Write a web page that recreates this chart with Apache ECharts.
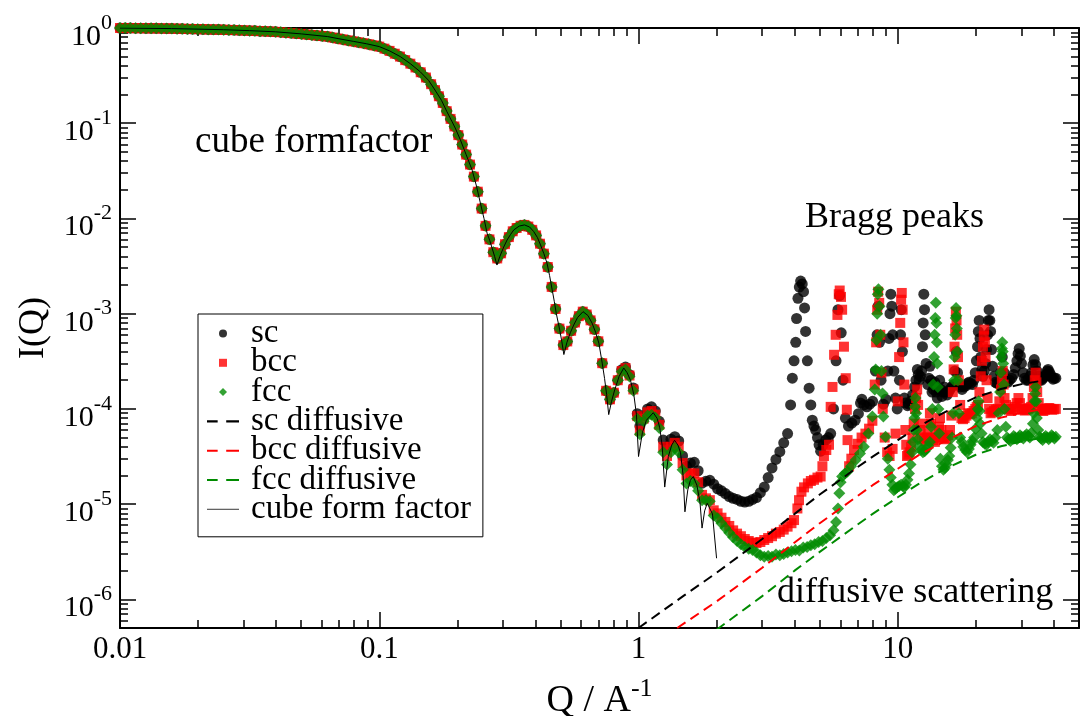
<!DOCTYPE html>
<html>
<head>
<meta charset="utf-8">
<script src="https://cdn.jsdelivr.net/npm/echarts@6.0.0/dist/echarts.min.js"></script>
<style>
  html, body {margin: 0; padding: 0; background: #fff;}
  #chart {width: 1089px; height: 716px;}
</style>
</head>
<body>
<div id="chart"></div>
<script>
// low Q: the three lattices sit on the cube form factor
const sharedLow = [
  [0.0100, 1.000], [0.01047, 0.998], [0.01096, 0.997], [0.01148, 0.996], [0.01202, 0.995], [0.01259, 0.993],
  [0.01318, 0.992], [0.0138, 0.991], [0.01445, 0.989], [0.01514, 0.988], [0.01585, 0.986], [0.0166, 0.984],
  [0.01738, 0.981], [0.0182, 0.978], [0.01905, 0.975], [0.01995, 0.973], [0.02089, 0.970], [0.02188, 0.967],
  [0.02291, 0.964], [0.02399, 0.962], [0.02512, 0.959], [0.0263, 0.955], [0.02754, 0.951], [0.02884, 0.946],
  [0.0302, 0.942], [0.03162, 0.938], [0.03311, 0.933], [0.03467, 0.927], [0.03631, 0.922], [0.03802, 0.917],
  [0.03981, 0.912], [0.04169, 0.904], [0.04365, 0.894], [0.04571, 0.885], [0.04786, 0.875], [0.05012, 0.867],
  [0.05248, 0.855], [0.05495, 0.845], [0.05754, 0.834], [0.06026, 0.824], [0.0631, 0.813], [0.06607, 0.794],
  [0.06918, 0.776], [0.07244, 0.759], [0.07586, 0.741], [0.07943, 0.724], [0.08318, 0.708], [0.0871, 0.692],
  [0.0912, 0.675], [0.0955, 0.656], [0.1, 0.638], [0.1047, 0.607], [0.1096, 0.575], [0.1148, 0.537],
  [0.1202, 0.501], [0.1259, 0.460], [0.1318, 0.422], [0.138, 0.385], [0.1445, 0.343], [0.1514, 0.302],
  [0.1585, 0.257], [0.1641, 0.223], [0.1698, 0.192], [0.1758, 0.163], [0.182, 0.134], [0.1884, 0.111],
  [0.195, 0.0925], [0.2018, 0.075], [0.2089, 0.0597], [0.2163, 0.0468], [0.2239, 0.0368], [0.2317, 0.0275],
  [0.2399, 0.0191], [0.2483, 0.0127], [0.257, 0.00836], [0.2661, 0.00603], [0.2754, 0.00442], [0.2851, 0.0038],
  [0.2951, 0.0043], [0.3055, 0.00537], [0.3162, 0.00637], [0.3273, 0.00733], [0.3388, 0.00794], [0.3508, 0.00837],
  [0.3631, 0.00855], [0.3758, 0.00822], [0.389, 0.00759], [0.4027, 0.00664], [0.4169, 0.00543], [0.4315, 0.00427],
  [0.4467, 0.00309], [0.4624, 0.00191], [0.4786, 0.00112], [0.4955, 0.000697], [0.5129, 0.000468], [0.5309, 0.000511],
  [0.5495, 0.000661], [0.5689, 0.000807], [0.5888, 0.000942], [0.6095, 0.00105], [0.631, 0.00098], [0.6531, 0.000851],
  [0.6761, 0.000685], [0.6998, 0.000513], [0.7244, 0.000302], [0.7499, 0.000155], [0.7762, 0.000126], [0.8035, 0.000148],
  [0.8318, 0.0002]
];

const scHigh = [
  [0.861, 2.57e-4], [0.891, 2.75e-4], [0.923, 2.29e-4], [0.955, 1.66e-4], [0.989, 8.9e-5], [1.012, 6.6e-5],
  [1.047, 8.5e-5], [1.084, 1.0e-4], [1.122, 1.05e-4], [1.161, 9.5e-5], [1.202, 7.4e-5], [1.245, 4.7e-5],
  [1.288, 4.0e-5], [1.334, 4.8e-5], [1.38, 5.1e-5], [1.429, 4.6e-5], [1.479, 3.2e-5], [1.531, 2.5e-5],
  [1.585, 2.7e-5], [1.641, 2.75e-5], [1.698, 2.24e-5], [1.758, 1.66e-5], [1.82, 1.74e-5], [1.884, 1.78e-5],
  [1.95, 1.62e-5], [2.018, 1.45e-5], [2.089, 1.38e-5], [2.163, 1.29e-5], [2.239, 1.2e-5], [2.317, 1.15e-5],
  [2.399, 1.12e-5], [2.483, 1.07e-5], [2.57, 1.05e-5], [2.661, 1.07e-5], [2.754, 1.12e-5], [2.851, 1.17e-5],
  [2.951, 1.32e-5], [3.055, 1.51e-5], [3.162, 1.9e-5], [3.273, 2.4e-5], [3.388, 2.95e-5], [3.508, 3.55e-5],
  [3.631, 4.4e-5], [3.758, 5.5e-5], [3.86, 1.1e-4], [3.92, 2.1e-4], [3.98, 3.2e-4], [4.04, 5.0e-4],
  [4.07, 8.9e-4], [4.12, 1.45e-3], [4.17, 1.9e-3], [4.22, 2.2e-3], [4.28, 2.05e-3], [4.33, 1.7e-3],
  [4.37, 1.15e-3], [4.41, 6.5e-4], [4.48, 3.2e-4], [4.55, 1.65e-4], [4.62, 1.1e-4], [4.68, 7.6e-5],
  [4.75, 6.6e-5], [4.82, 6.0e-5], [4.9, 5.0e-5], [4.97, 4.2e-5], [5.04, 3.6e-5], [5.15, 4.2e-5],
  [5.27, 4.7e-5], [5.4, 5.0e-5], [5.51, 5.5e-5], [5.65, 1.0e-4], [5.78, 3.2e-4], [5.88, 1.1e-3],
  [5.96, 1.55e-3], [6.05, 6.3e-4], [6.15, 2.0e-4], [6.28, 8.0e-5], [6.45, 6.6e-5], [6.65, 7.1e-5],
  [6.85, 7.6e-5], [7.05, 8.9e-5], [7.18, 1.15e-4], [7.27, 1.26e-4], [7.4, 1.1e-4], [7.6, 1.05e-4],
  [7.8, 1.12e-4], [8.0, 1.2e-4], [8.2, 2.5e-4], [8.32, 6.0e-4], [8.4, 1.2e-3], [8.5, 5.0e-4],
  [8.62, 2.0e-4], [8.8, 1.12e-4], [9.0, 1.26e-4], [9.15, 2.5e-4], [9.25, 5.5e-4], [9.33, 1.0e-3],
  [9.4, 1.6e-3], [9.48, 1.2e-3], [9.56, 6.0e-4], [9.66, 2.5e-4], [9.8, 1.3e-4], [9.95, 1.0e-4],
  [10.15, 2.0e-4], [10.25, 6.0e-4], [10.32, 1.1e-3], [10.42, 4.0e-4], [10.6, 1.3e-4], [10.7, 1.15e-4],
  [10.9, 1.08e-4], [11.05, 1.12e-4], [11.2, 1.2e-4], [11.4, 1.4e-4], [11.6, 1.7e-4], [11.75, 2.0e-4],
  [11.9, 2.6e-4], [12.0, 2.3e-4], [12.1, 2.0e-4], [12.22, 2.2e-4], [12.35, 2.5e-4], [12.45, 4.5e-4],
  [12.53, 8.0e-4], [12.6, 1.6e-3], [12.68, 1.1e-3], [12.76, 6.0e-4], [12.86, 3.0e-4], [13.05, 1.8e-4],
  [13.18, 2.1e-4], [13.3, 2.8e-4], [13.42, 2.0e-4], [13.55, 1.5e-4], [13.72, 1.6e-4], [13.9, 1.9e-4],
  [14.05, 1.5e-4], [14.2, 1.3e-4], [14.35, 1.6e-4], [14.5, 2.0e-4], [14.65, 1.6e-4], [14.8, 1.35e-4],
  [14.95, 1.5e-4], [15.1, 1.7e-4], [15.3, 1.5e-4], [15.5, 1.4e-4], [15.7, 1.5e-4], [15.9, 1.6e-4],
  [16.15, 1.7e-4], [16.4, 1.8e-4], [16.6, 2.5e-4], [16.8, 4.0e-4], [17.0, 2.4e-4], [17.2, 1.8e-4],
  [17.45, 1.7e-4], [17.7, 1.6e-4], [18.0, 1.7e-4], [18.3, 1.75e-4], [18.55, 1.85e-4], [18.8, 1.9e-4],
  [19.1, 1.85e-4], [19.4, 1.8e-4], [19.65, 2.0e-4], [19.9, 2.4e-4], [20.1, 3.2e-4], [20.3, 4.5e-4],
  [20.45, 6.5e-4], [20.6, 8.5e-4], [20.75, 5.5e-4], [20.9, 3.5e-4], [21.1, 2.6e-4], [21.3, 2.2e-4],
  [21.55, 2.5e-4], [21.8, 3.0e-4], [22.0, 4.2e-4], [22.2, 6.0e-4], [22.35, 8.5e-4], [22.5, 1.1e-3],
  [22.65, 8.5e-4], [22.8, 6.5e-4], [23.0, 4.2e-4], [23.2, 2.8e-4], [23.5, 2.2e-4], [23.8, 1.9e-4],
  [24.15, 1.85e-4], [24.5, 1.85e-4], [24.9, 2.4e-4], [25.3, 3.5e-4], [25.7, 2.4e-4], [26.1, 1.95e-4],
  [26.55, 1.9e-4], [27.0, 2.0e-4], [27.5, 2.1e-4], [28.0, 2.3e-4], [28.4, 2.7e-4], [28.8, 3.2e-4],
  [29.1, 3.8e-4], [29.4, 4.3e-4], [29.7, 3.6e-4], [30.0, 3.0e-4], [30.4, 2.4e-4], [30.8, 2.1e-4],
  [31.3, 2.0e-4], [31.8, 2.0e-4], [32.3, 2.2e-4], [32.8, 2.4e-4], [33.2, 2.9e-4], [33.6, 3.3e-4],
  [34.0, 2.9e-4], [34.4, 2.5e-4], [34.9, 2.2e-4], [35.4, 2.0e-4], [35.9, 2.0e-4], [36.4, 2.1e-4],
  [36.9, 2.2e-4], [37.3, 2.3e-4], [37.7, 2.5e-4], [38.0, 2.6e-4], [38.4, 2.45e-4], [38.8, 2.3e-4],
  [39.2, 2.15e-4], [39.7, 2.05e-4], [40.2, 2.1e-4], [40.7, 2.1e-4]
];

const bccHigh = [
  [0.861, 2.5e-4], [0.891, 2.68e-4], [0.923, 2.24e-4], [0.955, 1.6e-4], [0.989, 8.4e-5], [1.012, 5.9e-5],
  [1.047, 7.9e-5], [1.084, 9.2e-5], [1.122, 9.5e-5], [1.161, 8.7e-5], [1.202, 6.8e-5], [1.245, 4.0e-5],
  [1.288, 3.2e-5], [1.334, 4.0e-5], [1.38, 4.4e-5], [1.429, 4.0e-5], [1.479, 2.7e-5], [1.531, 2.0e-5],
  [1.585, 2.1e-5], [1.641, 2.1e-5], [1.698, 1.7e-5], [1.758, 1.25e-5], [1.82, 1.15e-5], [1.884, 1.1e-5],
  [1.95, 8.6e-6], [2.018, 8.0e-6], [2.089, 7.2e-6], [2.163, 6.5e-6], [2.239, 5.9e-6], [2.317, 5.3e-6],
  [2.399, 4.9e-6], [2.483, 4.6e-6], [2.57, 4.3e-6], [2.661, 4.1e-6], [2.754, 3.95e-6], [2.851, 3.9e-6],
  [2.951, 4.0e-6], [3.055, 4.2e-6], [3.162, 4.4e-6], [3.273, 4.6e-6], [3.388, 4.9e-6], [3.508, 5.1e-6],
  [3.631, 5.4e-6], [3.758, 5.8e-6], [3.89, 6.3e-6], [3.98, 6.8e-6], [4.1, 9.0e-6], [4.16, 1.1e-5],
  [4.25, 1.35e-5], [4.35, 1.5e-5], [4.5, 1.65e-5], [4.62, 1.75e-5], [4.75, 1.8e-5], [4.9, 1.9e-5],
  [5.04, 1.95e-5], [5.12, 2.5e-5], [5.19, 3.2e-5], [5.3, 3.7e-5], [5.43, 4.2e-5], [5.51, 1.05e-4],
  [5.6, 1.7e-4], [5.68, 3.7e-4], [5.76, 6.0e-4], [5.85, 9.7e-4], [5.92, 1.6e-3], [5.97, 1.75e-3],
  [6.04, 1.5e-3], [6.1, 1.1e-3], [6.2, 4.5e-4], [6.3, 2.1e-4], [6.36, 9.8e-5], [6.4, 4.7e-5],
  [6.49, 2.5e-5], [6.62, 3.0e-5], [6.78, 3.7e-5], [7.0, 4.3e-5], [7.25, 5.0e-5], [7.5, 5.5e-5],
  [7.75, 6.2e-5], [7.98, 7.5e-5], [8.15, 1.8e-4], [8.25, 5.0e-4], [8.33, 1.1e-3], [8.4, 1.7e-3],
  [8.48, 1.3e-3], [8.56, 6.0e-4], [8.65, 2.4e-4], [8.75, 1.0e-4], [8.9, 5.0e-5], [9.1, 3.5e-5],
  [9.3, 3.2e-5], [9.55, 3.8e-5], [9.8, 5.5e-5], [10.0, 1.2e-4], [10.12, 3.5e-4], [10.22, 8.0e-4],
  [10.3, 1.4e-3], [10.36, 1.65e-3], [10.44, 1.1e-3], [10.52, 5.0e-4], [10.6, 1.8e-4], [10.7, 6.0e-5],
  [10.78, 4.2e-5], [10.85, 3.2e-5], [10.97, 3.3e-5], [11.1, 3.5e-5], [11.25, 4.0e-5], [11.4, 5.0e-5],
  [11.52, 7.0e-5], [11.65, 1.0e-4], [11.77, 1.3e-4], [11.88, 1.6e-4], [11.98, 1.1e-4], [12.1, 7.0e-5],
  [12.25, 6.0e-5], [12.4, 5.0e-5], [12.6, 4.8e-5], [12.8, 4.6e-5], [12.95, 5.0e-5], [13.1, 5.5e-5],
  [13.2, 7.0e-5], [13.3, 9.0e-5], [13.42, 7.0e-5], [13.55, 5.0e-5], [13.72, 4.7e-5], [13.9, 4.5e-5],
  [14.1, 5.0e-5], [14.3, 5.5e-5], [14.42, 6.5e-5], [14.55, 8.0e-5], [14.72, 6.0e-5], [14.9, 5.0e-5],
  [15.15, 4.9e-5], [15.4, 4.8e-5], [15.65, 5.3e-5], [15.9, 6.0e-5], [16.1, 8.5e-5], [16.3, 1.5e-4],
  [16.42, 2.6e-4], [16.55, 4.5e-4], [16.65, 7.0e-4], [16.75, 1.05e-3], [16.85, 8.5e-4], [16.95, 6.0e-4],
  [17.07, 3.5e-4], [17.2, 2.0e-4], [17.4, 1.1e-4], [17.6, 8.0e-5], [17.85, 7.8e-5], [18.1, 8.0e-5],
  [18.4, 8.5e-5], [18.7, 9.0e-5], [19.0, 8.8e-5], [19.3, 9.0e-5], [19.6, 9.5e-5], [19.9, 1.0e-4],
  [20.15, 1.05e-4], [20.4, 1.1e-4], [20.65, 1.5e-4], [20.9, 2.2e-4], [21.1, 3.2e-4], [21.3, 4.5e-4],
  [21.45, 5.8e-4], [21.55, 6.8e-4], [21.68, 5.0e-4], [21.8, 3.5e-4], [22.0, 2.0e-4], [22.2, 1.3e-4],
  [22.5, 1.0e-4], [22.8, 9.0e-5], [23.15, 9.2e-5], [23.5, 9.5e-5], [23.9, 9.8e-5], [24.3, 1.0e-4],
  [24.65, 1.2e-4], [25.0, 1.6e-4], [25.2, 2.0e-4], [25.4, 2.5e-4], [25.6, 1.8e-4], [25.8, 1.3e-4],
  [26.15, 1.1e-4], [26.5, 1.0e-4], [26.95, 9.8e-5], [27.4, 9.5e-5], [27.85, 1.0e-4], [28.3, 1.05e-4],
  [28.75, 1.15e-4], [29.2, 1.3e-4], [29.6, 1.15e-4], [30.0, 1.0e-4], [30.45, 9.8e-5], [30.9, 9.6e-5],
  [31.35, 9.8e-5], [31.8, 1.0e-4], [32.25, 1.02e-4], [32.7, 1.05e-4], [33.1, 1.3e-4], [33.5, 1.7e-4],
  [33.75, 2.0e-4], [34.0, 2.4e-4], [34.25, 1.9e-4], [34.5, 1.5e-4], [34.95, 1.15e-4], [35.4, 1.0e-4],
  [35.9, 9.7e-5], [36.4, 9.5e-5], [36.9, 9.8e-5], [37.4, 1.0e-4], [37.9, 1.01e-4], [38.4, 1.02e-4],
  [38.9, 1.0e-4], [39.4, 9.8e-5], [40.0, 9.9e-5], [40.7, 1.0e-4]
];

const fccHigh = [
  [0.861, 2.45e-4], [0.891, 2.6e-4], [0.923, 2.19e-4], [0.955, 1.55e-4], [0.989, 7.9e-5], [1.012, 5.4e-5],
  [1.047, 7.4e-5], [1.084, 8.5e-5], [1.122, 8.7e-5], [1.161, 8.1e-5], [1.202, 6.3e-5], [1.245, 3.5e-5],
  [1.288, 2.6e-5], [1.334, 3.5e-5], [1.38, 3.9e-5], [1.429, 3.5e-5], [1.479, 2.3e-5], [1.531, 1.65e-5],
  [1.585, 1.75e-5], [1.641, 1.65e-5], [1.698, 1.38e-5], [1.758, 1.1e-5], [1.82, 1.1e-5], [1.884, 1.07e-5],
  [1.95, 7.6e-6], [2.018, 7.1e-6], [2.089, 6.3e-6], [2.163, 5.6e-6], [2.239, 5.0e-6], [2.317, 4.5e-6],
  [2.399, 4.1e-6], [2.483, 3.8e-6], [2.57, 3.55e-6], [2.661, 3.4e-6], [2.754, 3.3e-6], [2.851, 3.1e-6],
  [2.951, 2.9e-6], [3.055, 2.8e-6], [3.162, 2.85e-6], [3.273, 2.8e-6], [3.388, 2.95e-6], [3.508, 2.9e-6],
  [3.631, 3.0e-6], [3.758, 3.1e-6], [3.89, 3.2e-6], [4.03, 3.3e-6], [4.17, 3.25e-6], [4.32, 3.5e-6],
  [4.47, 3.55e-6], [4.62, 3.7e-6], [4.78, 3.8e-6], [4.95, 4.0e-6], [5.12, 4.1e-6], [5.3, 4.4e-6],
  [5.48, 4.7e-6], [5.65, 5.3e-6], [5.78, 6.5e-6], [5.88, 9.0e-6], [5.95, 1.3e-5], [6.02, 1.7e-5],
  [6.1, 1.95e-5], [6.25, 2.1e-5], [6.4, 2.2e-5], [6.6, 2.5e-5], [6.88, 2.9e-5], [7.15, 3.4e-5],
  [7.4, 4.0e-5], [7.7, 5.5e-5], [7.98, 8.3e-5], [8.15, 1.6e-4], [8.22, 2.6e-4], [8.28, 5.3e-4],
  [8.33, 1.0e-3], [8.37, 1.6e-3], [8.42, 1.8e-3], [8.5, 1.2e-3], [8.58, 6.0e-4], [8.65, 2.5e-4],
  [8.73, 1.45e-4], [8.8, 8.3e-5], [8.97, 5.1e-5], [9.15, 3.0e-5], [9.28, 2.3e-5], [9.4, 1.9e-5],
  [9.53, 1.6e-5], [9.66, 1.4e-5], [9.8, 1.45e-5], [9.95, 1.5e-5], [10.12, 1.55e-5], [10.3, 1.6e-5],
  [10.45, 1.55e-5], [10.6, 1.5e-5], [10.75, 1.6e-5], [10.9, 1.8e-5], [11.05, 2.1e-5], [11.2, 2.6e-5],
  [11.35, 3.5e-5], [11.45, 4.5e-5], [11.53, 6.0e-5], [11.6, 8.0e-5], [11.65, 1.05e-4], [11.7, 1.3e-4],
  [11.77, 9.0e-5], [11.85, 6.0e-5], [11.95, 4.8e-5], [12.1, 4.0e-5], [12.3, 3.7e-5], [12.5, 3.5e-5],
  [12.7, 3.6e-5], [12.9, 3.8e-5], [13.1, 4.1e-5], [13.3, 4.5e-5], [13.45, 6.5e-5], [13.6, 1.0e-4],
  [13.7, 1.8e-4], [13.8, 3.5e-4], [13.88, 6.0e-4], [13.95, 9.0e-4], [14.02, 1.3e-3], [14.1, 8.0e-4],
  [14.15, 5.0e-4], [14.2, 3.0e-4], [14.27, 1.7e-4], [14.35, 1.0e-4], [14.45, 5.5e-5], [14.6, 3.0e-5],
  [14.8, 2.5e-5], [15.0, 2.3e-5], [15.2, 2.4e-5], [15.4, 2.6e-5], [15.6, 2.9e-5], [15.8, 3.2e-5],
  [16.0, 3.9e-5], [16.2, 5.0e-5], [16.35, 9.0e-5], [16.5, 2.0e-4], [16.58, 3.5e-4], [16.65, 6.0e-4],
  [16.72, 9.0e-4], [16.78, 1.15e-3], [16.84, 9.5e-4], [16.9, 7.0e-4], [16.97, 4.0e-4], [17.05, 2.0e-4],
  [17.2, 9.0e-5], [17.4, 5.0e-5], [17.65, 4.5e-5], [17.9, 4.0e-5], [18.2, 3.7e-5], [18.5, 3.5e-5],
  [18.8, 3.8e-5], [19.1, 4.2e-5], [19.4, 4.6e-5], [19.7, 5.0e-5], [19.95, 6.2e-5], [20.2, 8.0e-5],
  [20.35, 1.0e-4], [20.5, 1.2e-4], [20.65, 9.5e-5], [20.8, 7.0e-5], [21.05, 5.5e-5], [21.3, 4.5e-5],
  [21.65, 4.3e-5], [22.0, 4.2e-5], [22.35, 4.5e-5], [22.7, 4.8e-5], [23.05, 4.6e-5], [23.4, 4.4e-5],
  [23.8, 5.0e-5], [24.2, 6.0e-5], [24.5, 9.0e-5], [24.8, 1.5e-4], [24.95, 2.4e-4], [25.1, 3.5e-4],
  [25.2, 4.3e-4], [25.3, 5.0e-4], [25.4, 4.0e-4], [25.5, 3.0e-4], [25.65, 1.8e-4], [25.8, 1.0e-4],
  [26.1, 6.5e-5], [26.4, 5.0e-5], [26.8, 4.8e-5], [27.2, 4.6e-5], [27.6, 4.9e-5], [28.0, 5.2e-5],
  [28.4, 5.0e-5], [28.8, 4.8e-5], [29.2, 5.0e-5], [29.6, 5.3e-5], [30.05, 5.1e-5], [30.5, 4.9e-5],
  [30.95, 5.2e-5], [31.4, 5.4e-5], [31.85, 5.2e-5], [32.3, 5.0e-5], [32.75, 5.6e-5], [33.2, 7.0e-5],
  [33.45, 9.0e-5], [33.7, 1.2e-4], [33.85, 1.45e-4], [34.0, 1.7e-4], [34.2, 1.2e-4], [34.4, 8.0e-5],
  [34.8, 6.0e-5], [35.2, 5.1e-5], [35.7, 4.9e-5], [36.2, 4.7e-5], [36.7, 5.0e-5], [37.2, 5.2e-5],
  [37.7, 5.0e-5], [38.2, 4.8e-5], [38.7, 5.0e-5], [39.2, 5.3e-5], [39.7, 5.1e-5], [40.2, 4.9e-5],
  [40.7, 5.1e-5]
];

const scDiffusive = [
  [1.0, 5.0e-7], [1.5, 1.1e-6], [2, 1.9e-6], [3, 4.3e-6], [4, 7.9e-6], [5, 1.26e-5], [6, 1.8e-5],
  [7, 2.45e-5], [8, 3.15e-5], [10, 4.7e-5], [12, 6.5e-5], [15, 9.1e-5], [20, 1.32e-4], [25, 1.62e-4],
  [30, 1.82e-4], [35, 1.95e-4], [40, 2.04e-4]
];
const bccDiffusive = [
  [1.41, 5.0e-7], [2, 9.5e-7], [3, 2.15e-6], [4, 3.95e-6], [5, 6.3e-6], [6, 9.0e-6], [7, 1.22e-5],
  [8, 1.58e-5], [10, 2.35e-5], [12, 3.25e-5], [15, 4.5e-5], [20, 6.6e-5], [25, 8.1e-5], [30, 9.1e-5],
  [35, 9.8e-5], [40, 1.02e-4]
];
const fccDiffusive = [
  [2, 4.8e-7], [3, 1.08e-6], [4, 2.0e-6], [5, 3.15e-6], [6, 4.5e-6], [7, 6.1e-6], [8, 7.9e-6],
  [10, 1.18e-5], [12, 1.62e-5], [15, 2.3e-5], [20, 3.3e-5], [25, 4.05e-5], [30, 4.55e-5], [35, 4.9e-5],
  [40, 5.1e-5]
];

const formFactor = [
  [0.01, 1.0], [0.0158, 0.986], [0.02, 0.973], [0.0251, 0.959], [0.0316, 0.938], [0.0398, 0.912],
  [0.0501, 0.867], [0.0631, 0.813], [0.0706, 0.767], [0.0794, 0.724], [0.0891, 0.684], [0.1, 0.638],
  [0.1096, 0.575], [0.1205, 0.501], [0.1318, 0.422], [0.1439, 0.347], [0.1549, 0.282], [0.1622, 0.234],
  [0.1738, 0.174], [0.1824, 0.132], [0.1905, 0.105], [0.1963, 0.0891], [0.2056, 0.0668], [0.2163, 0.0468],
  [0.228, 0.0324], [0.2371, 0.0219], [0.2455, 0.0145], [0.2535, 0.0100], [0.2606, 0.0070], [0.2667, 0.00589],
  [0.2723, 0.0049], [0.2786, 0.00398], [0.2844, 0.00324], [0.2917, 0.00398], [0.302, 0.00501], [0.3112, 0.00594],
  [0.3206, 0.00676], [0.3304, 0.00759], [0.3467, 0.00832], [0.3631, 0.00855], [0.3802, 0.00813], [0.3945, 0.00726],
  [0.4074, 0.00631], [0.4188, 0.00527], [0.4315, 0.00427], [0.4436, 0.00339], [0.4539, 0.00251], [0.4645, 0.00178],
  [0.4732, 0.00135], [0.4819, 0.0010], [0.4966, 0.000676], [0.5058, 0.000513], [0.5152, 0.000372], [0.5297, 0.000501],
  [0.5458, 0.000631], [0.5623, 0.000759], [0.5821, 0.000912], [0.6109, 0.00105], [0.6383, 0.000955], [0.6622, 0.000794],
  [0.6839, 0.000631], [0.7031, 0.00049], [0.7244, 0.000302], [0.7396, 0.000209], [0.7534, 0.000141], [0.7674, 0.0000871],
  [0.787, 0.00012], [0.8091, 0.000158], [0.8414, 0.000219], [0.877, 0.000269], [0.9036, 0.00024], [0.9311, 0.0002],
  [0.9594, 0.000141], [0.9817, 0.0000871], [1.0, 0.0000316], [1.035, 0.0000562], [1.072, 0.0000759], [1.14, 0.0000912],
  [1.18, 0.0000794], [1.208, 0.0000631], [1.233, 0.0000417], [1.262, 0.0000151], [1.303, 0.0000316], [1.343, 0.0000417],
  [1.377, 0.0000468], [1.419, 0.0000417], [1.452, 0.0000347], [1.486, 0.00002], [1.51, 0.0000083], [1.549, 0.0000141],
  [1.585, 0.0000178], [1.626, 0.0000195], [1.679, 0.0000158], [1.726, 0.0000105], [1.758, 0.0000056], [1.799, 0.0000085],
  [1.841, 0.0000102], [1.871, 0.0000106], [1.928, 0.0000079], [2.0, 0.0000027]
];

const xMinorTicks = [0.02, 0.03, 0.04, 0.05, 0.06, 0.07, 0.08, 0.09, 0.2, 0.3, 0.4, 0.5, 0.6, 0.7, 0.8, 0.9,
  2, 3, 4, 5, 6, 7, 8, 9, 20, 30, 40];
const yMinorTicks = [6e-7, 7e-7, 8e-7, 9e-7, 2e-6, 3e-6, 4e-6, 5e-6, 6e-6, 7e-6, 8e-6, 9e-6,
  2e-5, 3e-5, 4e-5, 5e-5, 6e-5, 7e-5, 8e-5, 9e-5, 2e-4, 3e-4, 4e-4, 5e-4, 6e-4, 7e-4, 8e-4, 9e-4,
  2e-3, 3e-3, 4e-3, 5e-3, 6e-3, 7e-3, 8e-3, 9e-3, 0.02, 0.03, 0.04, 0.05, 0.06, 0.07, 0.08, 0.09,
  0.2, 0.3, 0.4, 0.5, 0.6, 0.7, 0.8, 0.9];

const SERIF = "'Liberation Serif', 'Times New Roman', serif";
const GREEN = '#008b00';

const chart = echarts.init(document.getElementById('chart'));

function decade(v) {
  const l = Math.log10(v);
  const e = Math.round(l);
  return Math.abs(l - e) < 1e-6 ? e : null;
}

const tickLine = {color: '#000', width: 1.5};
const frame = {show: true, lineStyle: {color: '#000', width: 2}};

function xAxis(position, minor, extra) {
  return Object.assign({
    type: 'log', logBase: 10, min: 0.01, max: 50, position,
    axisLine: minor ? {show: false} : frame,
    axisTick: minor
      ? {show: true, inside: true, length: 8, customValues: xMinorTicks, lineStyle: tickLine}
      : {show: true, inside: true, length: 16, lineStyle: tickLine},
    axisLabel: {show: false},
    splitLine: {show: false},
    minorTick: {show: false}
  }, extra || {});
}

function yAxis(position, minor, extra) {
  return Object.assign({
    type: 'log', logBase: 10, min: 5e-7, max: 1, position,
    axisLine: minor ? {show: false} : frame,
    axisTick: minor
      ? {show: true, inside: true, length: 8, customValues: yMinorTicks, lineStyle: tickLine}
      : {show: true, inside: true, length: 16, lineStyle: tickLine},
    axisLabel: {show: false},
    splitLine: {show: false},
    minorTick: {show: false}
  }, extra || {});
}

const dashPath = 'path://M0,0h10v2h-10zM18,0h12v2h-12z';
const solidPath = 'path://M0,0h30v1h-30z';
const squarePath = 'path://M0,0h7v7h-7z';
const diamondPath = 'path://M4,0L8,4L4,8L0,4z';

chart.setOption({
  animation: false,
  backgroundColor: '#fff',
  textStyle: {fontFamily: SERIF},
  grid: {left: 120, right: 10, top: 28, bottom: 88, containLabel: false, outerBoundsMode: 'none'},
  xAxis: [
    xAxis('bottom', false, {
      axisLabel: {
        show: true, margin: 6, color: '#000', fontFamily: SERIF, fontSize: 31,
        formatter: v => {
          const e = decade(v);
          if (e === null) return '';
          return e < 0 ? Math.pow(10, e).toFixed(-e) : String(Math.pow(10, e));
        }
      },
      name: '{a|Q / A}{s|-1}',
      nameLocation: 'middle',
      nameGap: 54,
      nameMoveOverlap: false,
      nameTextStyle: {
        rich: {
          a: {fontFamily: SERIF, fontSize: 38, lineHeight: 38, color: '#000', verticalAlign: 'bottom'},
          s: {fontFamily: SERIF, fontSize: 26, lineHeight: 26, color: '#000', verticalAlign: 'bottom', padding: [0, 0, 18, 0]}
        }
      }
    }),
    xAxis('bottom', true),
    xAxis('top', false),
    xAxis('top', true)
  ],
  yAxis: [
    yAxis('left', false, {
      axisLabel: {
        show: true, margin: 8, padding: [18, 0, 0, 0],
        formatter: v => {
          const e = decade(v);
          return e === null ? '' : '{b|10}{s|' + e + '}';
        },
        rich: {
          b: {fontFamily: SERIF, fontSize: 30, lineHeight: 30, color: '#000', verticalAlign: 'bottom'},
          s: {fontFamily: SERIF, fontSize: 22, lineHeight: 22, color: '#000', verticalAlign: 'bottom', padding: [0, 0, 18, 0]}
        }
      },
      name: 'I(Q)',
      nameLocation: 'middle',
      nameGap: 68,
      nameMoveOverlap: false,
      nameTextStyle: {fontFamily: SERIF, fontSize: 36, color: '#000'}
    }),
    yAxis('left', true),
    yAxis('right', false),
    yAxis('right', true)
  ],
  legend: {
    orient: 'vertical',
    left: 198,
    top: 314,
    itemWidth: 32,
    itemHeight: 8,
    itemGap: -3.7,
    padding: [3, 12, 11, 9],
    borderColor: '#000',
    borderWidth: 1,
    borderRadius: 0,
    backgroundColor: '#fff',
    selectedMode: false,
    itemStyle: {borderWidth: 0},
    textStyle: {fontFamily: SERIF, fontSize: 33, color: '#000', padding: [0, 0, 0, 7]},
    data: [
      {name: 'sc', icon: 'circle'},
      {name: 'bcc', icon: squarePath, itemStyle: {color: '#ff0000'}},
      {name: 'fcc', icon: diamondPath, itemStyle: {color: GREEN}},
      {name: 'sc diffusive', icon: dashPath, itemStyle: {color: '#000'}},
      {name: 'bcc diffusive', icon: dashPath, itemStyle: {color: '#ff0000'}},
      {name: 'fcc diffusive', icon: dashPath, itemStyle: {color: GREEN}},
      {name: 'cube form factor', icon: solidPath, itemStyle: {color: '#444'}}
    ]
  },
  graphic: [
    {type: 'text', x: 195, y: 142, style: {text: 'cube formfactor', fontFamily: SERIF, fontSize: 37, fill: '#000', verticalAlign: 'middle'}},
    {type: 'text', x: 805, y: 218, style: {text: 'Bragg peaks', fontFamily: SERIF, fontSize: 36, fill: '#000', verticalAlign: 'middle'}},
    {type: 'text', x: 777, y: 593, style: {text: 'diffusive scattering', fontFamily: SERIF, fontSize: 36, fill: '#000', verticalAlign: 'middle'}}
  ],
  series: [
    {
      name: 'sc', type: 'scatter', data: sharedLow.concat(scHigh),
      symbol: 'circle', symbolSize: 11, itemStyle: {color: '#000'}
    },
    {
      name: 'bcc', type: 'scatter', data: sharedLow.concat(bccHigh),
      symbol: 'rect', symbolSize: 10, itemStyle: {color: '#ff0000'}
    },
    {
      name: 'fcc', type: 'scatter', data: sharedLow.concat(fccHigh),
      symbol: 'diamond', symbolSize: 12, itemStyle: {color: GREEN}
    },
    {
      name: 'sc diffusive', type: 'line', data: scDiffusive, symbol: 'none',
      lineStyle: {color: '#000', width: 2, type: [10, 6]}, itemStyle: {color: '#000'}
    },
    {
      name: 'bcc diffusive', type: 'line', data: bccDiffusive, symbol: 'none',
      lineStyle: {color: '#ff0000', width: 2, type: [10, 6]}, itemStyle: {color: '#ff0000'}
    },
    {
      name: 'fcc diffusive', type: 'line', data: fccDiffusive, symbol: 'none',
      lineStyle: {color: GREEN, width: 2, type: [10, 6]}, itemStyle: {color: GREEN}
    },
    {
      name: 'cube form factor', type: 'line', data: formFactor, symbol: 'none',
      lineStyle: {color: '#000', width: 1}, itemStyle: {color: '#000'}
    }
  ]
});
</script>
</body>
</html>
